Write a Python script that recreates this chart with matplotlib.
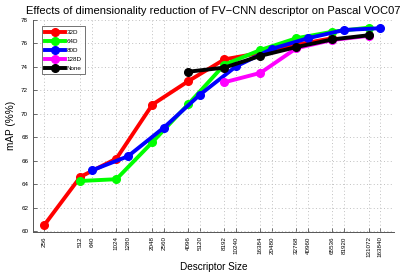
import matplotlib.pyplot as plt

plt.rcParams['font.family'] = ['Liberation Sans', 'DejaVu Sans']

# descriptor sizes and mAP for each PCA setting
dims_32 = [256, 512, 1024, 2048, 4096, 8192, 16384, 32768, 65536]
map_32 = [60.55, 64.65, 66.2, 70.8, 72.8, 74.65, 75.2, 75.9, 76.45]

dims_64 = [512, 1024, 2048, 4096, 8192, 16384, 32768, 65536, 131072]
map_64 = [64.3, 64.45, 67.6, 70.85, 74.2, 75.45, 76.45, 77.0, 77.35]

dims_80 = [640, 1280, 2560, 5120, 10240, 20480, 40960, 81920, 163840]
map_80 = [65.2, 66.4, 68.85, 71.65, 74.05, 75.55, 76.45, 77.15, 77.3]

dims_128 = [8192, 16384, 32768, 65536, 131072]
map_128 = [72.7, 73.5, 75.6, 76.3, 76.65]

dims_none = [4096, 8192, 16384, 32768, 65536, 131072]
map_none = [73.6, 73.95, 74.95, 75.7, 76.35, 76.7]

xticks = [256, 512, 640, 1024, 1280, 2048, 2560, 4096, 5120, 8192, 10240,
          16384, 20480, 32768, 40960, 65536, 81920, 131072, 163840]

fig = plt.figure(figsize=(4.07, 2.74), dpi=100)
ax = fig.add_axes([33 / 407, 1 - 231.5 / 274, 361 / 407, 211.5 / 274])

style = dict(marker='o', linewidth=2.8, markersize=5.5)
ax.plot(dims_32, map_32, color='#ff0000', label='32D', **style)
ax.plot(dims_64, map_64, color='#00ff00', label='64D', **style)
ax.plot(dims_80, map_80, color='#0000ff', label='80D', **style)
ax.plot(dims_128, map_128, color='#ff00ff', label='128D', **style)
ax.plot(dims_none, map_none, color='#000000', label='None', **style)

ax.set_xscale('log', base=2)
ax.set_xlim(206, 214000)
ax.set_ylim(60, 78)
ax.set_xticks(xticks)
ax.set_xticklabels([str(t) for t in xticks], rotation=90, fontsize=4.5)
ax.minorticks_off()
ax.set_yticks(range(60, 79, 2))
ax.tick_params(axis='y', labelsize=4.5)
ax.tick_params(direction='in', length=3, width=0.6, color='#555555')

ax.grid(True, linestyle=(0, (1, 2.5)), color='#c0c0c0', linewidth=0.7)
for side in ['top', 'right']:
    ax.spines[side].set_visible(False)
for side in ['left', 'bottom']:
    ax.spines[side].set_color('#555555')
    ax.spines[side].set_linewidth(0.7)

ax.set_title('Effects of dimensionality reduction of FV\u2212CNN descriptor on Pascal VOC07',
             fontsize=8, pad=4)
ax.set_xlabel('Descriptor Size', fontsize=7.2, labelpad=3)
ax.set_ylabel('mAP (%%)', fontsize=7.2, labelpad=4)

leg = ax.legend(loc='upper left', fontsize=4.5, handlelength=3.2, borderpad=0.5,
                labelspacing=0.6, handletextpad=0.3, fancybox=False,
                bbox_to_anchor=(0.015, 0.985))
leg.get_frame().set_edgecolor('#333333')
leg.get_frame().set_linewidth(0.6)

fig.savefig('out.png', dpi=100)
